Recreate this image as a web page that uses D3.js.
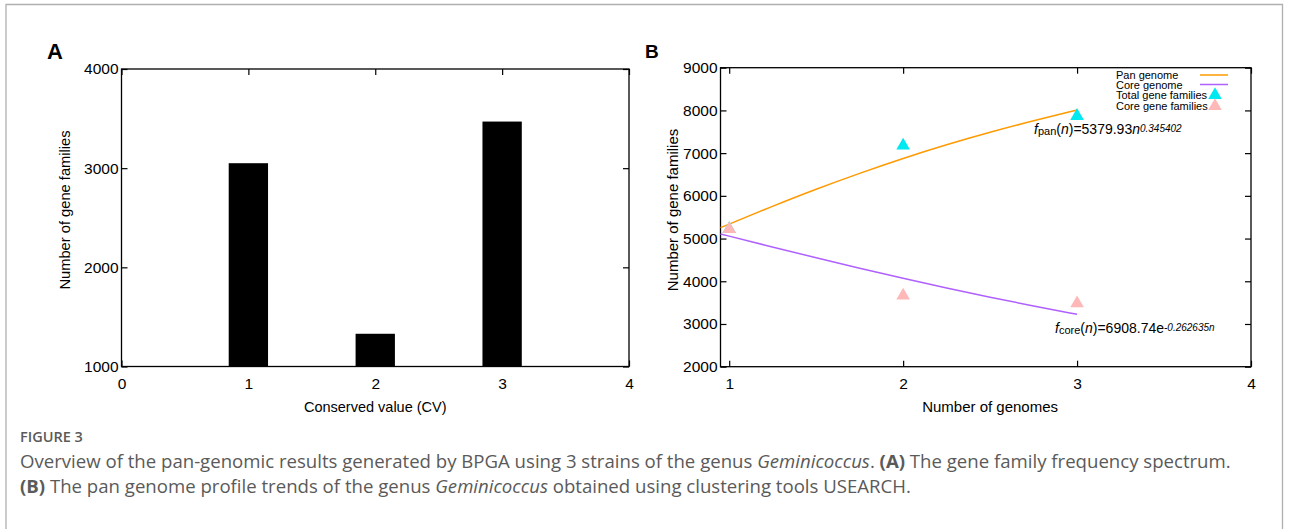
<!DOCTYPE html>
<html><head><meta charset="utf-8">
<script src="https://cdn.jsdelivr.net/npm/d3@7"></script>
<style>
body{margin:0;background:#fff;}
svg{display:block;}
.ax text{font-family:"Liberation Sans",Arial,sans-serif;fill:#000;}
</style></head><body>
<svg id="c" width="1292" height="529"></svg>
<script>
// ---- Panel A data ----
const cvCategories = [1, 2, 3];
const cvCounts = [3050, 1330, 3470];
const aXTicks = [0, 1, 2, 3, 4];
const aYTicks = [1000, 2000, 3000, 4000];

// ---- Panel B data ----
const genomesN = [1, 2, 3];
const totalFamilies = [5220, 7175, 7870];
const coreFamilies = [5220, 3663, 3485];
const curveN = [0.95, 1.25, 1.5, 1.75, 2, 2.25, 2.5, 2.75, 3];
const panCurve = [5255, 5760, 6160, 6530, 6880, 7200, 7490, 7760, 8010];
const coreCurve = [5108, 4800, 4550, 4305, 4070, 3840, 3625, 3420, 3227];
const bXTicks = [1, 2, 3, 4];
const bYTicks = [2000, 3000, 4000, 5000, 6000, 7000, 8000, 9000];

const svg = d3.select("#c");
const FONT = '"Liberation Sans",Arial,sans-serif';

// outer frame
svg.append("path").attr("d","M6,529 V4.5 H1282.5 V529").attr("fill","none").attr("stroke","#b0b0b0").attr("stroke-width",1.3);

function frameAxes(g, x, y, xt, yt, L, R, T, B, fs){
  const tk = 6;
  g.append("g").attr("class","ax").attr("transform",`translate(0,${B})`)
    .call(d3.axisBottom(x).tickValues(xt).tickSizeInner(-tk).tickSizeOuter(0).tickPadding(11).tickFormat(d3.format("d")))
    .call(s=>{s.select(".domain").remove(); s.selectAll("text").attr("font-size",fs).attr("font-family",FONT);});
  g.append("g").attr("class","ax").attr("transform",`translate(0,${T})`)
    .call(d3.axisTop(x).tickValues(xt).tickSizeInner(-tk).tickSizeOuter(0).tickFormat(""))
    .call(s=>s.select(".domain").remove());
  g.append("g").attr("class","ax").attr("transform",`translate(${L},0)`)
    .call(d3.axisLeft(y).tickValues(yt).tickSizeInner(-tk).tickSizeOuter(0).tickPadding(3).tickFormat(d3.format("d")))
    .call(s=>{s.select(".domain").remove(); s.selectAll("text").attr("font-size",fs).attr("font-family",FONT);});
  g.append("g").attr("class","ax").attr("transform",`translate(${R},0)`)
    .call(d3.axisRight(y).tickValues(yt).tickSizeInner(-tk).tickSizeOuter(0).tickFormat(""))
    .call(s=>s.select(".domain").remove());
  g.selectAll(".tick line").attr("stroke","#000").attr("stroke-width",1.2);
  g.append("rect").attr("x",L).attr("y",T).attr("width",R-L).attr("height",B-T)
    .attr("fill","none").attr("stroke","#000").attr("stroke-width",1.3);
}

// ---------- Panel A ----------
{
  const L=121.5, R=629, T=69, B=366.5;
  const g = svg.append("g");
  const x = d3.scaleLinear().domain([0,4]).range([L,R]);
  const y = d3.scaleLinear().domain([1000,4000]).range([B,T]);
  frameAxes(g, x, y, aXTicks, aYTicks, L, R, T, B, 15.5);
  const bw = 0.31;
  g.append("g").selectAll("rect").data(cvCategories).join("rect")
    .attr("x", (d)=>x(d-bw/2)).attr("width", x(bw)-x(0))
    .attr("y", (d,i)=>y(cvCounts[i])).attr("height",(d,i)=>B - y(cvCounts[i]))
    .attr("fill","#000");
  g.append("text").attr("x",x(2)).attr("y",412).attr("text-anchor","middle")
    .attr("font-family",FONT).attr("font-size",14.5).text("Conserved value (CV)");
  g.append("text").attr("transform","translate(70,210) rotate(-90)").attr("text-anchor","middle")
    .attr("font-family",FONT).attr("font-size",14.7).text("Number of gene families");
  g.append("text").attr("x",47).attr("y",59).attr("font-family",FONT).attr("font-weight","bold")
    .attr("font-size",22).text("A");
}

// ---------- Panel B ----------
{
  const L=720.5, R=1251, T=67.7, B=366.7;
  const g = svg.append("g");
  const x = d3.scaleLinear().domain([0.95,4]).range([L,R]);
  const y = d3.scaleLinear().domain([2000,9000]).range([B,T]);
  frameAxes(g, x, y, bXTicks, bYTicks, L, R, T, B, 15.5);
  const line = d3.line().x((d,i)=>x(curveN[i])).y(d=>y(d)).curve(d3.curveBasis);
  g.append("path").datum(panCurve).attr("d",line).attr("fill","none").attr("stroke","#ff9a00").attr("stroke-width",1.5);
  g.append("path").datum(coreCurve).attr("d",line).attr("fill","none").attr("stroke","#b060ff").attr("stroke-width",1.5);
  const tri = d3.symbol().type(d3.symbolTriangle).size(80);
  g.append("g").selectAll("path").data(genomesN).join("path")
    .attr("transform",(d,i)=>`translate(${x(d)},${y(totalFamilies[i])})`).attr("d",tri).attr("fill","#00e8f0");
  g.append("g").selectAll("path").data(genomesN).join("path")
    .attr("transform",(d,i)=>`translate(${x(d)},${y(coreFamilies[i])})`).attr("d",tri).attr("fill","#ffb8b8");

  // legend
  const lg = g.append("g").attr("font-family",FONT).attr("font-size",11);
  const items = [
    {t:"Pan genome", type:"line", c:"#ff9a00", y:75},
    {t:"Core genome", type:"line", c:"#b060ff", y:84.5},
    {t:"Total gene families", type:"tri", c:"#00e8f0", y:95},
    {t:"Core gene families", type:"tri", c:"#ffb8b8", y:106}
  ];
  items.forEach(it=>{
    lg.append("text").attr("x",1116).attr("y",it.y+4).text(it.t);
    if(it.type==="line") lg.append("line").attr("x1",1200).attr("x2",1228).attr("y1",it.y).attr("y2",it.y).attr("stroke",it.c).attr("stroke-width",1.5);
    else lg.append("path").attr("transform",`translate(1215,${it.y})`).attr("d",tri).attr("fill",it.c);
  });

  // formula annotations
  const f1 = g.append("text").attr("x",1034).attr("y",134).attr("font-family",FONT).attr("font-size",14);
  f1.append("tspan").attr("font-style","italic").text("f");
  f1.append("tspan").attr("font-size",11).attr("dy",1).text("pan");
  f1.append("tspan").attr("dy",-1).text("(");
  f1.append("tspan").attr("font-style","italic").text("n");
  f1.append("tspan").text(")=5379.93");
  f1.append("tspan").attr("font-style","italic").text("n");
  f1.append("tspan").attr("font-style","italic").attr("font-size",10).attr("dy",-2).text("0.345402");

  const f2 = g.append("text").attr("x",1055).attr("y",333).attr("font-family",FONT).attr("font-size",14);
  f2.append("tspan").attr("font-style","italic").text("f");
  f2.append("tspan").attr("font-size",11).attr("dy",1).text("core");
  f2.append("tspan").attr("dy",-1).text("(");
  f2.append("tspan").attr("font-style","italic").text("n");
  f2.append("tspan").text(")=6908.74e");
  f2.append("tspan").attr("font-style","italic").attr("font-size",10).attr("dy",-2).text("-0.262635");
  f2.append("tspan").attr("font-style","italic").attr("font-size",10).text("n");

  g.append("text").attr("x",x(2.5)).attr("y",412).attr("text-anchor","middle")
    .attr("font-family",FONT).attr("font-size",15).text("Number of genomes");
  g.append("text").attr("transform","translate(678,210) rotate(-90)").attr("text-anchor","middle")
    .attr("font-family",FONT).attr("font-size",15).text("Number of gene families");
  g.append("text").attr("x",645).attr("y",58).attr("font-family",FONT).attr("font-weight","bold")
    .attr("font-size",19).text("B");
}

// ---------- Caption ----------
{
  const CF = '"Open Sans","Noto Sans",sans-serif';
  const col = "#5a5a5a";
  svg.append("text").attr("x",20).attr("y",442).attr("font-family",CF).attr("font-size",14.5)
    .attr("font-weight",600).attr("fill",col).text("FIGURE 3");
  const l1 = svg.append("text").attr("x",20).attr("y",468).attr("font-family",CF).attr("font-size",18.6).attr("fill",col);
  l1.append("tspan").text("Overview of the pan-genomic results generated by BPGA using 3 strains of the genus ");
  l1.append("tspan").attr("font-style","italic").text("Geminicoccus");
  l1.append("tspan").text(". ");
  l1.append("tspan").attr("font-weight","bold").text("(A)");
  l1.append("tspan").text(" The gene family frequency spectrum.");
  const l2 = svg.append("text").attr("x",20).attr("y",493).attr("font-family",CF).attr("font-size",18.6).attr("fill",col);
  l2.append("tspan").attr("font-weight","bold").text("(B)");
  l2.append("tspan").text(" The pan genome profile trends of the genus ");
  l2.append("tspan").attr("font-style","italic").text("Geminicoccus");
  l2.append("tspan").text(" obtained using clustering tools USEARCH.");
}
</script>
</body></html>
